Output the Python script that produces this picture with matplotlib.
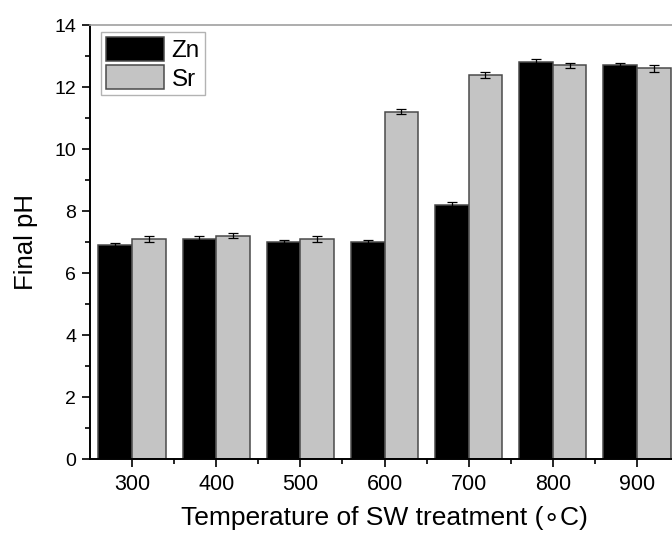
import numpy as np
import matplotlib
matplotlib.use('Agg')
import matplotlib.pyplot as plt
from matplotlib.ticker import MultipleLocator

plt.rcParams['font.family'] = ['Liberation Sans', 'DejaVu Sans']

temps = [300, 400, 500, 600, 700, 800, 900]
zn_ph = [6.9, 7.1, 7.0, 7.0, 8.2, 12.8, 12.7]
zn_err = [0.08, 0.1, 0.08, 0.08, 0.08, 0.1, 0.08]
sr_ph = [7.1, 7.2, 7.1, 11.2, 12.4, 12.7, 12.6]
sr_err = [0.1, 0.08, 0.1, 0.08, 0.1, 0.08, 0.1]

fig = plt.figure(figsize=(6.72, 5.33), dpi=100)
ax = fig.add_axes([90/672, 74/533, 589/672, 434/533])

x = np.array(temps)
w = 40
err_kw = dict(ecolor='black', elinewidth=0.9, capsize=3.5, capthick=0.9)
ax.bar(x - w/2, zn_ph, w, yerr=zn_err, color='black', edgecolor='#4a4a4a',
       linewidth=1.1, label='Zn', error_kw=err_kw)
ax.bar(x + w/2, sr_ph, w, yerr=sr_err, color='#c4c4c4', edgecolor='#4a4a4a',
       linewidth=1.1, label='Sr', error_kw=err_kw)

ax.set_xlim(250, 950)
ax.set_ylim(0, 14)
ax.set_xticks(temps)
ax.set_xticks([350, 450, 550, 650, 750, 850], minor=True)
ax.yaxis.set_major_locator(MultipleLocator(2))
ax.yaxis.set_minor_locator(MultipleLocator(1))
ax.tick_params(which='major', direction='out', length=6, width=1.2)
ax.tick_params(which='minor', direction='out', length=3.5, width=1.2)
ax.tick_params(axis='x', which='major', labelsize=15.5, pad=5)
ax.tick_params(axis='y', which='major', labelsize=14, pad=4)

for s in ['left', 'bottom']:
    ax.spines[s].set_linewidth(1.4)
ax.spines['top'].set_color('#a0a0a0')
ax.spines['top'].set_linewidth(1.2)
ax.spines['right'].set_visible(False)

ax.set_xlabel('Temperature of SW treatment (\u2218C)', fontsize=19, labelpad=8)
ax.set_ylabel('Final pH', fontsize=18.5, labelpad=12)

leg = ax.legend(loc='upper left', bbox_to_anchor=(101/672, 1 - 32/533),
                bbox_transform=fig.transFigure, fontsize=17.5, frameon=True,
                fancybox=False, handlelength=2.4, handleheight=1.15,
                handletextpad=0.3, borderpad=0.2, labelspacing=0.13,
                borderaxespad=0)
leg.get_frame().set_edgecolor('#a0a0a0')
leg.get_frame().set_linewidth(1.0)

fig.savefig('out.png', dpi=100)
